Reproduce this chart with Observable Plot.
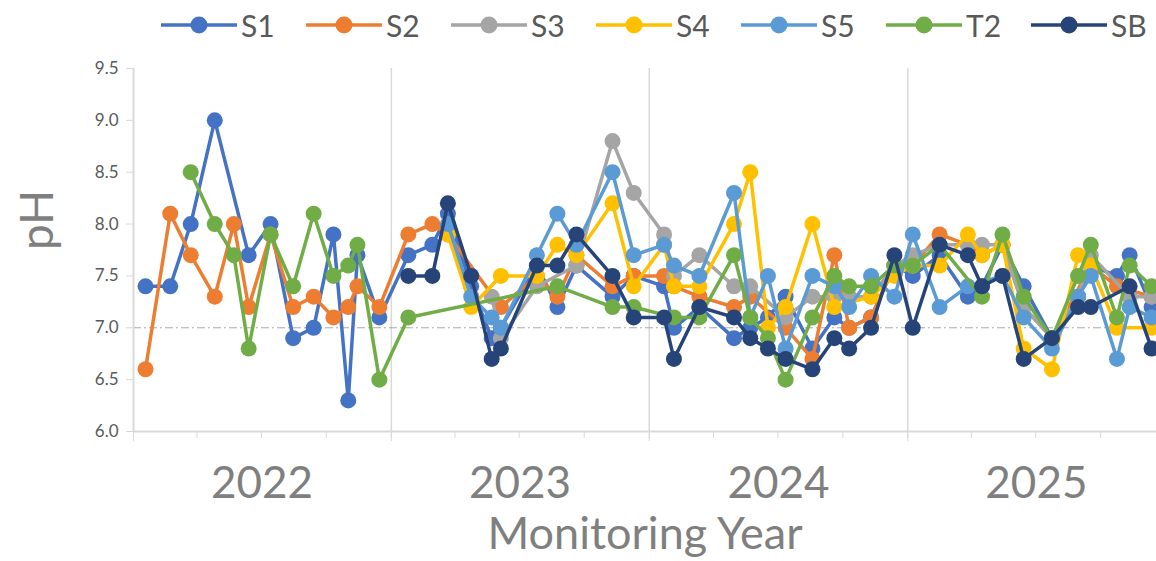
<!DOCTYPE html>
<html><head><meta charset="utf-8">
<script src="https://cdn.jsdelivr.net/npm/d3@7"></script>
<script src="https://cdn.jsdelivr.net/npm/@observablehq/plot@0.6"></script>
<style>
body{margin:0;background:#fff;font-family:Lato,sans-serif;}
#legend{position:relative;width:1156px;height:48px;}
.item{position:absolute;top:8px;height:34px;display:flex;align-items:center;}
.item span{font-size:30px;color:#595959;margin-left:4px;line-height:34px;}
</style></head><body>
<div id="legend"></div>
<div id="chart"></div>
<script>
const dates = ["2022-01-18","2022-02-22","2022-03-23","2022-04-26","2022-05-23","2022-06-13","2022-07-14","2022-08-15","2022-09-13","2022-10-11","2022-11-01","2022-11-14","2022-12-15",
"2023-01-25","2023-02-28","2023-03-22","2023-04-24","2023-05-23","2023-06-05","2023-07-26","2023-08-24","2023-09-20","2023-11-10","2023-12-10",
"2024-01-22","2024-02-05","2024-03-12","2024-04-30","2024-05-23","2024-06-17","2024-07-12","2024-08-19","2024-09-19","2024-10-10","2024-11-10","2024-12-13",
"2025-01-08","2025-02-15","2025-03-27","2025-04-16","2025-05-15","2025-06-14","2025-07-24","2025-08-30","2025-09-17","2025-10-24","2025-11-11","2025-12-12"];
const n = null;
const S1 = [7.4,7.4,8.0,9.0,n,7.7,8.0,6.9,7.0,7.9,6.3,7.7,7.1, 7.7,7.8,8.1,7.4,6.9,7.0,7.6,7.2,7.6,7.3,7.5, 7.4,7.0,7.2,6.9,7.0,7.1,7.3,6.8,7.1,7.0,7.1,7.6, 7.5,7.7,7.3,7.4,7.8,7.4,6.9,7.3,7.6,7.5,7.7,7.2];
const S2 = [6.6,8.1,7.7,7.3,8.0,7.2,7.9,7.2,7.3,7.1,7.2,7.4,7.2, 7.9,8.0,7.9,n,n,7.2,7.5,7.3,7.7,7.4,7.5, 7.5,7.4,7.3,7.2,7.3,n,7.0,6.7,7.7,7.0,7.1,7.6, 7.6,7.9,7.8,7.7,7.8,7.2,6.9,n,7.6,7.4,n,7.3];
const S3 = [n,n,n,n,n,n,n,n,n,n,n,n,n, n,n,n,n,7.3,6.9,7.4,n,7.6,8.8,8.3, 7.9,7.5,7.7,7.4,7.4,n,7.1,7.3,7.3,7.3,7.3,7.6, 7.7,7.8,7.8,7.8,7.8,7.2,6.9,7.3,7.7,n,7.3,7.3];
const S4 = [n,n,n,n,n,n,n,n,n,n,n,n,n, n,n,7.9,7.2,n,7.5,7.5,7.8,7.7,8.2,7.4, 7.8,7.4,7.4,8.0,8.5,7.0,7.2,8.0,7.2,n,7.3,7.5, 7.6,7.6,7.9,7.7,7.8,6.8,6.6,7.7,7.6,7.0,n,7.0];
const S5 = [n,n,n,n,n,n,n,n,n,n,n,n,n, n,n,8.0,7.3,7.1,7.0,7.7,8.1,7.8,8.5,7.7, 7.8,7.6,7.5,8.3,7.1,7.5,6.8,7.5,7.4,7.2,7.5,7.3, 7.9,7.2,7.4,n,7.5,7.1,6.8,7.3,7.5,6.7,7.2,7.1];
const T2 = [n,n,8.5,8.0,7.7,6.8,7.9,7.4,8.1,7.5,7.6,7.8,6.5, 7.1,n,n,n,n,n,n,7.4,n,7.2,7.2, n,7.1,7.1,7.7,7.1,6.9,6.5,7.1,7.5,7.4,7.4,7.6, 7.6,7.8,n,7.3,7.9,7.3,6.9,7.5,7.8,7.1,7.6,7.4];
const SB = [n,n,n,n,n,n,n,n,n,n,n,n,n, 7.5,7.5,8.2,7.5,6.7,6.8,7.6,7.6,7.9,7.5,7.1, 7.1,6.7,7.2,7.1,6.9,6.8,6.7,6.6,6.9,6.8,7.0,7.7, 7.0,7.8,7.7,7.4,7.5,6.7,6.9,7.2,7.2,n,7.4,6.8];
const seriesNames = ["S1","S2","S3","S4","S5","T2","SB"];
const seriesColors = ["#4472C4","#ED7D31","#A5A5A5","#FFC000","#5B9BD5","#70AD47","#264478"];
const seriesValues = [S1,S2,S3,S4,S5,T2,SB];
const yTicks = [6.0,6.5,7.0,7.5,8.0,8.5,9.0,9.5];
const years = [2022,2023,2024,2025];

const parse = d3.utcParse("%Y-%m-%d");
const xStart = parse("2022-01-01"), xEnd = parse("2025-12-19");
const yearStarts = years.map(y => new Date(Date.UTC(y,0,1)));
const gridYears = yearStarts.slice(1);
const yearMids = years.map(y => new Date(Date.UTC(y,6,2)));
const quarters = d3.utcMonth.every(3).range(xStart, xEnd);

// legend
const legend = document.getElementById("legend");
seriesNames.forEach((name, i) => {
  const left = 161 + i * 145;
  const div = document.createElement("div");
  div.className = "item";
  div.style.left = left + "px";
  div.innerHTML = `<svg width="76" height="34"><line x1="0" y1="17" x2="76" y2="17" stroke="${seriesColors[i]}" stroke-width="3.5"/><circle cx="38" cy="17" r="8.5" fill="${seriesColors[i]}"/></svg><span>${name}</span>`;
  legend.appendChild(div);
});

const seriesMarks = [];
seriesNames.forEach((name, i) => {
  const data = dates.map((d, j) => ({date: parse(d), value: seriesValues[i][j]})).filter(d => d.value != null);
  seriesMarks.push(Plot.line(data, {x: "date", y: "value", stroke: seriesColors[i], strokeWidth: 3.5}));
  seriesMarks.push(Plot.dot(data, {x: "date", y: "value", r: 8, fill: seriesColors[i], stroke: "none"}));
});

const chart = Plot.plot({
  width: 1156, height: 513,
  marginTop: 20, marginBottom: 130, marginLeft: 133, marginRight: 0,
  style: {fontFamily: "Lato, sans-serif", background: "#fff", overflow: "visible"},
  x: {type: "utc", domain: [xStart, xEnd]},
  y: {domain: [6, 9.5]},
  marks: [
    Plot.ruleX(gridYears, {y1: 6, y2: 9.5, stroke: "#d9d9d9", strokeWidth: 1.5}),
    Plot.ruleY([7], {stroke: "#a6a6a6", strokeWidth: 1, strokeDasharray: "8,3,2,3"}),
    Plot.ruleY([6], {stroke: "#d9d9d9", strokeWidth: 2}),
    Plot.ruleX([xStart], {y1: 6, y2: 9.5, stroke: "#d9d9d9", strokeWidth: 2}),
    Plot.axisY({ticks: yTicks, tickFormat: d => d.toFixed(1), tickSize: 7, tickPadding: 8, fontSize: 17, stroke: "#d9d9d9", fill: "#595959", label: null}),
    Plot.axisX({ticks: quarters, tickSize: 7, tickFormat: () => "", stroke: "#d9d9d9", label: null}),
    Plot.axisX({ticks: yearStarts, tickSize: 10, tickFormat: () => "", stroke: "#d9d9d9", label: null}),
    Plot.text(yearMids, {x: d => d, text: d => String(d.getUTCFullYear()), frameAnchor: "bottom", dy: 52, lineAnchor: "middle", fontSize: 44, fill: "#7f7f7f"}),
    Plot.text(["Monitoring Year"], {frameAnchor: "bottom", dy: 103, lineAnchor: "middle", fontSize: 45, fill: "#7f7f7f"}),
    Plot.text(["pH"], {frameAnchor: "left", dx: -95, rotate: -90, lineAnchor: "middle", fontSize: 46, fill: "#7f7f7f"}),
    ...seriesMarks
  ]
});
document.getElementById("chart").appendChild(chart);
</script>
</body></html>
